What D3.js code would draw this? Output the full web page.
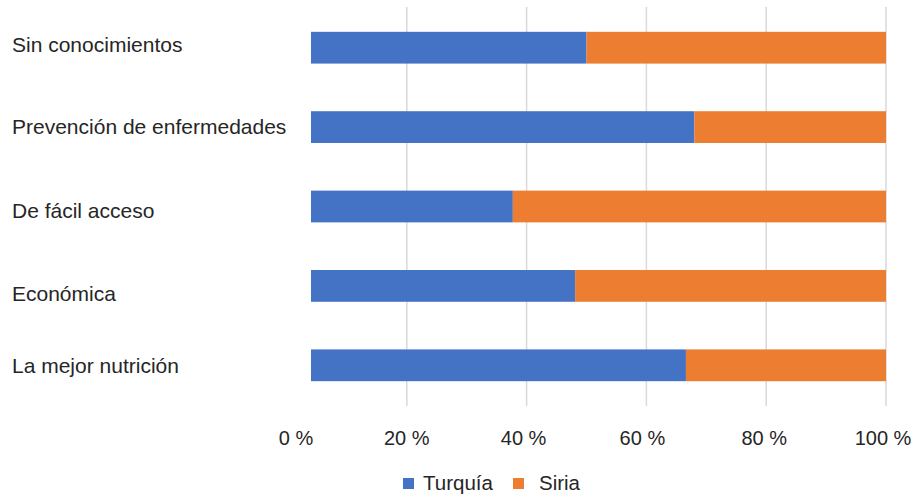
<!DOCTYPE html>
<html>
<head>
<meta charset="utf-8">
<script src="https://cdn.jsdelivr.net/npm/d3@7"></script>
<style>
  html, body { margin: 0; padding: 0; background: #ffffff; }
  svg { display: block; }
  text { font-family: "Liberation Sans", Arial, sans-serif; fill: #262626; }
</style>
</head>
<body>
<div id="chart"></div>
<script>
// ---- data ----
const categories = ["Sin conocimientos", "Prevención de enfermedades", "De fácil acceso", "Económica", "La mejor nutrición"];
const seriesNames = ["Turquía", "Siria"];
const turquia = [50, 68, 37.7, 48.1, 66.6];
const siria = [50, 32, 62.3, 51.9, 33.4];
const tickValues = [0, 20, 40, 60, 80, 100];
const tickLabels = ["0 %", "20 %", "40 %", "60 %", "80 %", "100 %"];
const colors = ["#4472C4", "#ED7D31"];

// ---- layout ----
const W = 914, H = 498;
const svg = d3.select("#chart").append("svg").attr("width", W).attr("height", H);

const x = d3.scaleLinear().domain([0, 100]).range([287, 886]);
const y = d3.scaleBand().domain(categories).range([8, 405]).paddingInner(0.6).paddingOuter(0.3);

// gridlines
svg.append("g").selectAll("line")
  .data(tickValues.filter(v => v > 0))
  .join("line")
  .attr("x1", d => x(d)).attr("x2", d => x(d))
  .attr("y1", 7).attr("y2", 406)
  .attr("stroke", "#d9d9d9").attr("stroke-width", 1.5);

// clip for plot area (bars begin slightly right of 0 in the reference)
svg.append("defs").append("clipPath").attr("id", "plotclip")
  .append("rect").attr("x", 311).attr("y", 0).attr("width", W - 311).attr("height", H);

const rows = categories.map((c, i) => ({ cat: c, vals: [turquia[i], siria[i]] }));
const stackData = categories.map((c, i) => ({ cat: c, "Turquía": turquia[i], "Siria": siria[i] }));
const stack = d3.stack().keys(seriesNames)(stackData);

const barsG = svg.append("g").attr("clip-path", "url(#plotclip)");
stack.forEach((layer, si) => {
  barsG.append("g").selectAll("rect")
    .data(layer)
    .join("rect")
    .attr("x", d => x(d[0]))
    .attr("width", d => x(d[1]) - x(d[0]))
    .attr("y", d => y(d.data.cat))
    .attr("height", y.bandwidth())
    .attr("fill", colors[si]);
});

// category labels
const labelNudge = [-3, -1, 4, 8, 0];
svg.append("g").selectAll("text")
  .data(categories)
  .join("text")
  .attr("x", 12)
  .attr("y", (d, i) => y(d) + y.bandwidth() / 2 + labelNudge[i])
  .attr("dy", "0.36em")
  .attr("font-size", 21)
  .text(d => d);

// x tick labels
const tickNudge = [9, 0, -3, -4, -2, -3];
svg.append("g").selectAll("text")
  .data(tickValues)
  .join("text")
  .attr("x", (d, i) => x(d) + tickNudge[i])
  .attr("y", 445)
  .attr("text-anchor", "middle")
  .attr("font-size", 20)
  .text((d, i) => tickLabels[i]);

// legend
const legend = svg.append("g");
const legendX = [403, 513];
const legendTextX = [423, 539];
seriesNames.forEach((s, i) => {
  legend.append("rect")
    .attr("x", legendX[i]).attr("y", 478)
    .attr("width", 11).attr("height", 11)
    .attr("fill", colors[i]);
  legend.append("text")
    .attr("x", legendTextX[i]).attr("y", 490)
    .attr("font-size", 20.5)
    .text(s);
});
</script>
</body>
</html>
